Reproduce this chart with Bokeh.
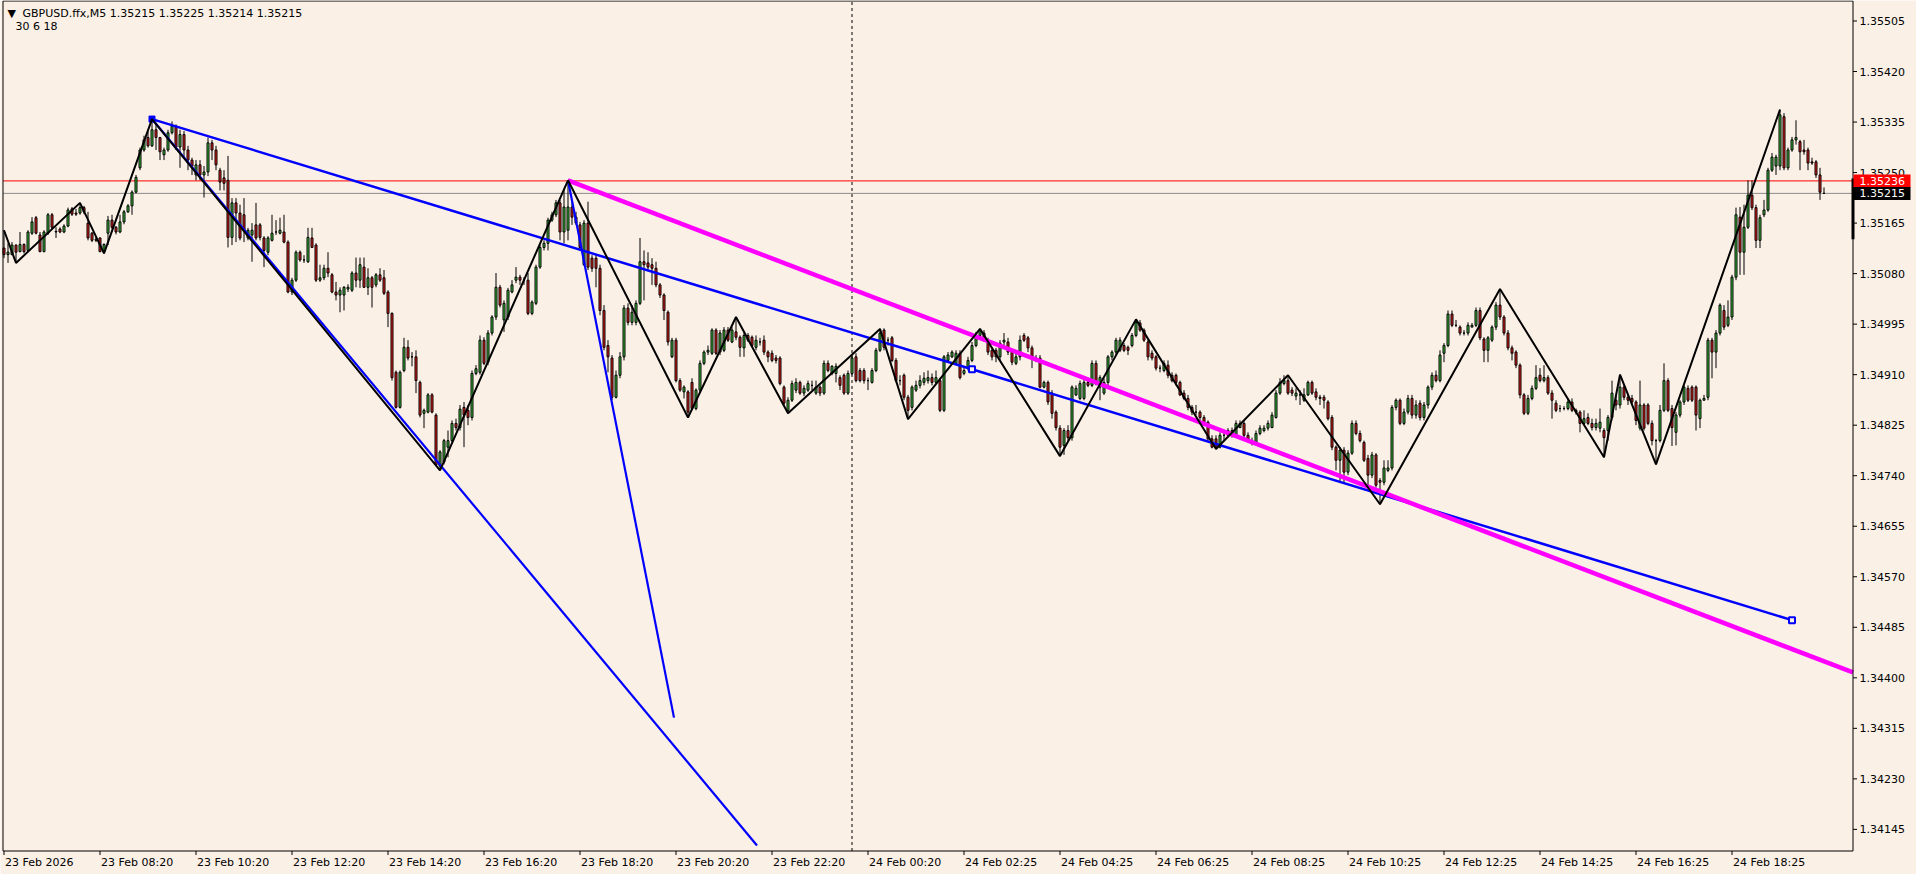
import numpy as np
from bokeh.plotting import figure
from bokeh.models import Range1d
from bokeh.core.properties import value
from bokeh.embed import file_html
from bokeh.resources import INLINE

# ---------------- data (prices in points above BASE, 1 point = 0.00001) ----------------
BASE = 1.34
SYMBOL = "GBPUSD.ffx,M5"
ZZ_PARAMS = "30 6 18"
ASK = 1.35236

OPEN_PTS = [
    1123, 1112, 1112, 1128, 1117, 1129, 1119, 1148, 1174, 1145,
    1117, 1148, 1179, 1151, 1155, 1150, 1160, 1189, 1182, 1182,
    1191, 1165, 1148, 1136, 1140, 1117, 1148, 1170, 1158, 1150,
    1167, 1184, 1194, 1217, 1258, 1288, 1309, 1295, 1322, 1309,
    1280, 1288, 1317, 1328, 1293, 1314, 1288, 1271, 1246, 1263,
    1246, 1251, 1300, 1288, 1254, 1241, 1237, 1141, 1199, 1182,
    1179, 1140, 1145, 1162, 1162, 1140, 1116, 1136, 1150, 1148,
    1150, 1133, 1049, 1069, 1116, 1103, 1100, 1140, 1128, 1069,
    1073, 1089, 1078, 1049, 1044, 1044, 1054, 1052, 1081, 1069,
    1091, 1057, 1073, 1061, 1078, 1073, 1049, 1013, 914, 855,
    917, 956, 940, 940, 897, 845, 847, 876, 842, 756,
    763, 788, 799, 828, 821, 855, 850, 838, 912, 914,
    968, 931, 980, 1007, 1057, 1002, 1007, 1049, 1069, 1074,
    1069, 1069, 1013, 1030, 1091, 1124, 1131, 1170, 1179, 1199,
    1150, 1153, 1192, 1175, 1162, 1095, 1165, 1106, 1106, 1089,
    1018, 959, 938, 872, 909, 940, 1022, 998, 998, 1030,
    1100, 1098, 1095, 1089, 1061, 1044, 1015, 940, 968, 900,
    881, 881, 897, 853, 884, 929, 948, 946, 985, 948,
    951, 985, 965, 982, 973, 955, 976, 973, 956, 965,
    968, 948, 946, 938, 938, 889, 850, 867, 884, 897,
    879, 884, 892, 879, 889, 879, 929, 912, 912, 905,
    909, 879, 912, 940, 917, 917, 900, 897, 917, 951,
    985, 968, 972, 934, 900, 909, 872, 855, 884, 892,
    897, 900, 905, 897, 900, 850, 934, 940, 929, 946,
    912, 921, 934, 959, 976, 980, 968, 951, 951, 940,
    965, 965, 948, 929, 940, 976, 972, 955, 938, 938,
    889, 897, 879, 847, 820, 791, 816, 804, 876, 870,
    870, 897, 892, 929, 889, 879, 897, 940, 948, 951,
    959, 956, 959, 976, 997, 985, 965, 946, 940, 921,
    917, 926, 909, 909, 897, 879, 870, 855, 847, 847,
    838, 830, 802, 802, 788, 808, 808, 816, 808, 821,
    828, 808, 799, 796, 811, 816, 820, 821, 838, 879,
    895, 900, 884, 874, 876, 867, 876, 897, 881, 872,
    872, 864, 838, 788, 766, 783, 746, 778, 828, 811,
    796, 769, 741, 775, 732, 729, 749, 753, 855, 867,
    828, 847, 870, 842, 862, 838, 859, 889, 909, 900,
    946, 959, 1012, 993, 990, 980, 980, 990, 993, 1018,
    970, 951, 968, 990, 1027, 1007, 980, 955, 948, 926,
    876, 845, 870, 887, 909, 900, 905, 879, 862, 853,
    853, 853, 864, 850, 847, 828, 838, 828, 821, 820,
    816, 816, 838, 867, 859, 889, 872, 870, 864, 820,
    859, 859, 828, 799, 799, 850, 900, 853, 813, 842,
    864, 887, 889, 889, 836, 867, 872, 968, 948, 980,
    1018, 993, 1007, 1074, 1175, 1116, 1158, 1212, 1191, 1136,
    1179, 1187, 1254, 1261, 1261, 1344, 1258, 1288, 1305, 1302,
    1288, 1288, 1268, 1268, 1246, 1215,
]
HIGH_PTS = [
    1153, 1131, 1133, 1129, 1150, 1131, 1153, 1175, 1177, 1150,
    1153, 1182, 1182, 1158, 1158, 1163, 1191, 1192, 1189, 1199,
    1194, 1184, 1150, 1143, 1141, 1131, 1177, 1179, 1160, 1179,
    1187, 1197, 1220, 1246, 1292, 1312, 1319, 1340, 1330, 1310,
    1292, 1322, 1336, 1331, 1322, 1320, 1295, 1275, 1271, 1271,
    1261, 1309, 1305, 1295, 1258, 1254, 1278, 1207, 1207, 1196,
    1207, 1157, 1165, 1199, 1165, 1143, 1143, 1179, 1170, 1174,
    1179, 1136, 1073, 1119, 1119, 1111, 1157, 1157, 1131, 1095,
    1095, 1116, 1081, 1066, 1057, 1059, 1062, 1084, 1107, 1107,
    1107, 1089, 1076, 1081, 1089, 1086, 1052, 1015, 917, 917,
    972, 968, 948, 951, 900, 853, 879, 879, 845, 783,
    802, 816, 833, 836, 859, 864, 859, 917, 926, 976,
    973, 985, 1010, 1081, 1061, 1035, 1056, 1069, 1091, 1078,
    1074, 1081, 1035, 1095, 1128, 1136, 1174, 1184, 1204, 1204,
    1220, 1237, 1204, 1184, 1167, 1170, 1201, 1111, 1111, 1095,
    1027, 968, 943, 917, 948, 1027, 1030, 1027, 1035, 1140,
    1119, 1116, 1106, 1100, 1064, 1047, 1018, 972, 972, 904,
    892, 884, 904, 887, 934, 951, 959, 988, 988, 985,
    990, 990, 990, 1007, 976, 980, 980, 976, 976, 972,
    976, 951, 951, 943, 941, 892, 872, 900, 904, 900,
    892, 900, 900, 900, 892, 934, 934, 926, 929, 909,
    912, 917, 943, 946, 921, 921, 905, 921, 955, 987,
    988, 973, 975, 938, 909, 912, 876, 892, 900, 909,
    914, 917, 912, 917, 904, 943, 948, 951, 951, 951,
    924, 940, 965, 982, 987, 985, 972, 955, 955, 968,
    980, 972, 951, 948, 976, 980, 975, 959, 943, 943,
    900, 900, 884, 850, 825, 820, 825, 892, 892, 900,
    904, 904, 934, 934, 909, 904, 943, 951, 972, 973,
    963, 959, 980, 1003, 1002, 988, 968, 951, 943, 926,
    934, 934, 914, 912, 900, 884, 876, 859, 859, 850,
    842, 833, 808, 808, 813, 813, 820, 821, 833, 833,
    833, 813, 804, 816, 825, 825, 833, 847, 884, 904,
    909, 909, 889, 887, 884, 887, 900, 900, 887, 876,
    876, 867, 842, 791, 788, 788, 783, 833, 833, 816,
    799, 775, 780, 778, 736, 766, 766, 859, 870, 870,
    853, 876, 876, 867, 867, 864, 892, 914, 917, 951,
    963, 1018, 1018, 1002, 993, 985, 998, 997, 1023, 1023,
    973, 975, 993, 1032, 1054, 1010, 985, 959, 951, 929,
    879, 876, 892, 926, 921, 926, 909, 884, 867, 859,
    857, 870, 870, 853, 850, 850, 845, 836, 836, 853,
    820, 842, 900, 876, 910, 892, 876, 876, 867, 900,
    862, 862, 833, 802, 859, 929, 904, 859, 847, 867,
    892, 892, 892, 892, 870, 876, 972, 972, 985, 1030,
    1027, 1035, 1078, 1191, 1192, 1196, 1237, 1237, 1196, 1179,
    1204, 1258, 1283, 1280, 1356, 1350, 1292, 1310, 1338, 1305,
    1305, 1292, 1275, 1271, 1258, 1225,
]
LOW_PTS = [
    1106, 1098, 1111, 1098, 1116, 1114, 1117, 1145, 1146, 1116,
    1116, 1145, 1155, 1140, 1148, 1148, 1158, 1177, 1177, 1179,
    1180, 1136, 1133, 1133, 1116, 1114, 1128, 1155, 1146, 1148,
    1163, 1182, 1179, 1215, 1254, 1285, 1292, 1293, 1288, 1271,
    1271, 1285, 1314, 1288, 1258, 1275, 1254, 1246, 1237, 1237,
    1208, 1244, 1271, 1254, 1220, 1220, 1124, 1128, 1133, 1136,
    1133, 1136, 1100, 1136, 1136, 1091, 1111, 1134, 1145, 1146,
    1131, 1047, 1044, 1066, 1100, 1098, 1098, 1123, 1066, 1066,
    1069, 1074, 1047, 1035, 1015, 1018, 1049, 1049, 1057, 1056,
    1056, 1044, 1023, 1057, 1066, 1044, 990, 900, 853, 853,
    914, 934, 924, 879, 838, 820, 845, 845, 756, 749,
    759, 771, 796, 816, 816, 788, 825, 833, 909, 910,
    926, 926, 976, 1002, 1023, 982, 1002, 1047, 1064, 1061,
    1061, 1010, 1010, 1027, 1088, 1119, 1119, 1167, 1175, 1136,
    1131, 1136, 1162, 1162, 1119, 1093, 1086, 1083, 1057, 1010,
    951, 914, 867, 870, 904, 934, 993, 993, 993, 1027,
    1035, 1086, 1061, 1057, 1039, 1002, 959, 938, 897, 881,
    870, 838, 850, 850, 881, 926, 943, 943, 943, 943,
    948, 965, 963, 968, 940, 940, 965, 956, 951, 959,
    943, 931, 931, 929, 892, 859, 845, 864, 879, 876,
    874, 881, 884, 876, 874, 876, 914, 909, 897, 884,
    876, 876, 909, 897, 897, 895, 884, 895, 914, 948,
    951, 959, 931, 897, 892, 867, 835, 850, 881, 887,
    892, 895, 892, 895, 847, 847, 931, 938, 926, 902,
    909, 917, 931, 956, 973, 965, 943, 934, 931, 934,
    959, 943, 926, 926, 934, 965, 948, 921, 931, 887,
    887, 859, 836, 816, 773, 775, 799, 799, 874, 867,
    867, 889, 889, 892, 867, 876, 892, 934, 943, 948,
    948, 943, 956, 973, 982, 965, 934, 934, 917, 914,
    914, 904, 897, 892, 874, 867, 850, 842, 842, 833,
    825, 799, 786, 785, 786, 799, 804, 804, 804, 820,
    804, 796, 791, 791, 808, 813, 816, 820, 836, 876,
    892, 876, 874, 867, 859, 864, 874, 876, 867, 859,
    853, 833, 783, 749, 729, 729, 741, 775, 808, 796,
    763, 724, 736, 720, 692, 724, 746, 749, 850, 825,
    825, 843, 836, 836, 833, 833, 853, 884, 897, 897,
    931, 956, 990, 990, 976, 976, 976, 990, 990, 968,
    931, 931, 965, 985, 1002, 976, 951, 934, 921, 870,
    842, 842, 867, 884, 897, 897, 876, 836, 847, 847,
    850, 850, 847, 843, 813, 825, 825, 816, 816, 813,
    771, 799, 833, 850, 853, 867, 859, 859, 825, 816,
    816, 825, 791, 759, 796, 847, 847, 790, 791, 838,
    859, 864, 864, 816, 820, 867, 867, 904, 921, 976,
    985, 990, 1002, 1069, 1078, 1078, 1155, 1187, 1123, 1123,
    1175, 1184, 1251, 1246, 1254, 1254, 1254, 1285, 1297, 1254,
    1280, 1254, 1263, 1241, 1204, 1214,
]
CLOSE_PTS = [
    1112, 1116, 1128, 1116, 1129, 1117, 1150, 1167, 1148, 1117,
    1150, 1179, 1158, 1150, 1150, 1160, 1187, 1180, 1180, 1191,
    1184, 1140, 1136, 1138, 1117, 1129, 1170, 1158, 1150, 1167,
    1184, 1194, 1217, 1242, 1288, 1305, 1295, 1322, 1309, 1285,
    1288, 1317, 1328, 1293, 1314, 1288, 1271, 1261, 1263, 1246,
    1251, 1300, 1288, 1263, 1234, 1232, 1141, 1199, 1182, 1140,
    1153, 1153, 1153, 1140, 1141, 1119, 1140, 1148, 1150, 1153,
    1133, 1049, 1069, 1116, 1103, 1103, 1141, 1124, 1069, 1073,
    1089, 1081, 1049, 1044, 1052, 1057, 1057, 1081, 1069, 1095,
    1057, 1073, 1057, 1078, 1069, 1047, 1013, 905, 855, 914,
    956, 938, 940, 900, 842, 850, 876, 847, 758, 780,
    799, 799, 828, 821, 852, 842, 838, 912, 920, 968,
    929, 980, 1007, 1057, 1027, 1030, 1052, 1061, 1074, 1069,
    1069, 1013, 1032, 1091, 1124, 1131, 1170, 1179, 1199, 1150,
    1192, 1192, 1175, 1165, 1124, 1165, 1091, 1089, 1089, 1018,
    956, 940, 872, 909, 940, 1022, 998, 1015, 1030, 1100,
    1095, 1091, 1089, 1061, 1044, 1018, 965, 968, 900, 884,
    889, 847, 853, 884, 929, 948, 951, 985, 946, 980,
    985, 968, 985, 973, 956, 976, 968, 959, 968, 965,
    948, 940, 934, 934, 895, 862, 867, 895, 897, 879,
    887, 895, 892, 889, 879, 929, 917, 924, 924, 892,
    879, 912, 938, 900, 900, 900, 900, 917, 951, 980,
    956, 968, 934, 900, 900, 872, 850, 889, 892, 900,
    904, 905, 897, 905, 850, 940, 943, 948, 946, 905,
    917, 934, 959, 976, 985, 968, 948, 940, 940, 963,
    968, 948, 931, 940, 968, 968, 955, 938, 938, 889,
    897, 864, 845, 821, 788, 816, 804, 889, 887, 895,
    897, 892, 929, 895, 905, 897, 940, 948, 968, 968,
    951, 951, 976, 998, 985, 968, 940, 938, 921, 921,
    929, 909, 900, 897, 876, 870, 855, 847, 847, 838,
    828, 802, 788, 788, 808, 808, 816, 808, 828, 828,
    808, 799, 794, 811, 820, 820, 828, 842, 879, 897,
    900, 879, 879, 879, 876, 876, 897, 879, 872, 870,
    867, 836, 788, 766, 783, 746, 778, 828, 811, 799,
    766, 741, 775, 724, 729, 753, 753, 855, 867, 828,
    847, 870, 842, 859, 838, 859, 889, 909, 900, 943,
    959, 1012, 993, 993, 980, 980, 993, 993, 1018, 972,
    951, 972, 990, 1027, 1007, 980, 955, 946, 926, 876,
    845, 870, 887, 905, 900, 905, 879, 867, 850, 853,
    853, 864, 850, 847, 828, 836, 828, 821, 828, 830,
    804, 838, 879, 859, 889, 872, 867, 864, 833, 859,
    820, 828, 799, 799, 850, 900, 850, 821, 842, 864,
    889, 867, 867, 842, 867, 870, 968, 948, 980, 1027,
    990, 1007, 1074, 1179, 1116, 1158, 1212, 1191, 1136, 1174,
    1187, 1254, 1276, 1276, 1347, 1258, 1288, 1305, 1309, 1285,
    1285, 1266, 1266, 1246, 1217, 1215,
]

# time axis labels at bar indices
X_TICK_BARS = [0, 24, 48, 72, 96, 120, 144, 168, 192, 216, 240, 264, 288, 312, 336, 360, 384, 408, 432]
X_TICK_LABELS = ["23 Feb 2026", "23 Feb 08:20", "23 Feb 10:20", "23 Feb 12:20", "23 Feb 14:20",
                 "23 Feb 16:20", "23 Feb 18:20", "23 Feb 20:20", "23 Feb 22:20", "24 Feb 00:20",
                 "24 Feb 02:25", "24 Feb 04:25", "24 Feb 06:25", "24 Feb 08:25", "24 Feb 10:25",
                 "24 Feb 12:25", "24 Feb 14:25", "24 Feb 16:25", "24 Feb 18:25"]
Y_TICKS = [1.34145, 1.34230, 1.34315, 1.34400, 1.34485, 1.34570, 1.34655, 1.34740, 1.34825,
           1.34910, 1.34995, 1.35080, 1.35165, 1.35250, 1.35335, 1.35420, 1.35505]
DAY_SEPARATOR_BAR = 212

# zigzag pivots: bar index and whether it's a high (H) or low (L)
ZZ_BARS = [0, 3, 19, 25, 37, 109, 141, 171, 183, 196, 219, 226, 244, 264, 283, 303, 321, 344, 374, 400, 404, 413, 444]
ZZ_KIND = "HLHLHLHLHLHLHLHLHLHLHLH"

# trend lines (bar index, points)
BLUE_A_BARS, BLUE_A_PTS = [37, 242, 447], [1340, 919, 497]
BLUE_B_BARS, BLUE_B_PTS = [37, 188.25], [1340, 118]
BLUE_C_BARS, BLUE_C_PTS = [141, 167.5], [1237, 333]
MAGENTA_BARS, MAGENTA_PTS = [141, 462.25], [1237, 409]
RANGE_BAR_PTS = [1138, 1240]

# ---------------- layout: MT4 window geometry (page pixels) ----------------
W, H = 1916, 874
PX_BAR = 4.0          # pixels per bar
X_ORIGIN = 3.5        # page x of bar 0
PX_PRICE = 59440.0    # pixels per price unit
Y_REF_PRICE, Y_REF_PX = 1.35505, 20.5
CHART_RIGHT_PX, CHART_BOTTOM_PX, CHART_LEFT_PX, CHART_TOP_PX = 1852.5, 850.5, 2.5, 0.5


def bx(page_x):
    return (page_x - X_ORIGIN) / PX_BAR


def py(page_y):
    return Y_REF_PRICE - (page_y - Y_REF_PX) / PX_PRICE


def dy(pixels):
    return pixels / PX_PRICE


def px(v):
    return BASE + np.asarray(v, dtype=float) / 100000.0


o, h, l, c = px(OPEN_PTS), px(HIGH_PTS), px(LOW_PTS), px(CLOSE_PTS)
idx = np.arange(len(c))
up = c >= o
dn = ~up

BG = "#FAF0E6"
GREEN = "#3cc83c"
RED = "#f01e1e"
FONT = value("DejaVu Sans")
FS = value("11px")

p = figure(width=W, height=H, x_range=Range1d(bx(0), bx(W)), y_range=Range1d(py(H), py(0)),
           output_backend="svg", toolbar_location=None, title=None,
           x_axis_location=None, y_axis_location=None,
           min_border_left=0, min_border_top=0, min_border_right=0, min_border_bottom=0,
           background_fill_color=BG, border_fill_color=BG, outline_line_color=None)
p.grid.visible = False

xl, xr = bx(CHART_LEFT_PX), bx(CHART_RIGHT_PX)
yb, yt = py(CHART_BOTTOM_PX), py(CHART_TOP_PX)

# price lines and day separator
p.segment(x0=[xl], x1=[xr], y0=[ASK], y1=[ASK], line_color="#ff0000", line_width=1)
p.segment(x0=[xl], x1=[xr], y0=[c[-1]], y1=[c[-1]], line_color="#8a8a8a", line_width=1)
p.segment(x0=[DAY_SEPARATOR_BAR], x1=[DAY_SEPARATOR_BAR], y0=[yb], y1=[yt], line_color="black",
          line_width=1, line_dash="3 3")

# candles
p.segment(x0=idx, x1=idx, y0=l, y1=h, line_color="black", line_width=1)
p.vbar(x=idx[up], bottom=o[up], top=c[up], width=0.5, fill_color=GREEN, line_color="black", line_width=1)
p.vbar(x=idx[dn], bottom=c[dn], top=o[dn], width=0.5, fill_color=RED, line_color="black", line_width=1)

# trend lines
p.line(BLUE_A_BARS, px(BLUE_A_PTS), line_color="#0000ff", line_width=2.5)
p.line(BLUE_B_BARS, px(BLUE_B_PTS), line_color="#0000ff", line_width=2.2)
p.line(BLUE_C_BARS, px(BLUE_C_PTS), line_color="#0000ff", line_width=2.2)
p.line(MAGENTA_BARS, px(MAGENTA_PTS), line_color="#ff00ff", line_width=4.5)
p.scatter(BLUE_A_BARS[:1], px(BLUE_A_PTS[:1]), marker="square", size=6, fill_color="#0000ff", line_color="#0000ff")
p.scatter(BLUE_A_BARS[1:], px(BLUE_A_PTS[1:]), marker="square", size=6, fill_color=BG,
          line_color="#0000ff", line_width=2)

# zigzag
zz_y = [h[b] if k == "H" else l[b] for b, k in zip(ZZ_BARS, ZZ_KIND)]
p.line(ZZ_BARS, zz_y, line_color="black", line_width=2)

# chart frame
p.line([xl, xr, xr, xl, xl], [yt, yt, yb, yb, yt], line_color="black", line_width=1)

# price scale (right)
p.segment(x0=[xr] * len(Y_TICKS), x1=[bx(1856.5)] * len(Y_TICKS), y0=Y_TICKS, y1=Y_TICKS,
          line_color="black", line_width=1)
p.text(x=[bx(1859)] * len(Y_TICKS), y=Y_TICKS, text=[f"{t:.5f}" for t in Y_TICKS],
       text_font=FONT, text_font_size=FS, text_color="black", text_align="left", text_baseline="middle")

# time scale (bottom)
p.segment(x0=X_TICK_BARS, x1=X_TICK_BARS, y0=[yb] * len(X_TICK_BARS), y1=[py(854.5)] * len(X_TICK_BARS),
          line_color="black", line_width=1)
p.text(x=[b + bx(5) - bx(4) for b in X_TICK_BARS], y=[py(855)] * len(X_TICK_BARS), text=X_TICK_LABELS,
       text_font=FONT, text_font_size=FS, text_color="black", text_align="left", text_baseline="top")

# current range bar on the price scale
p.quad(left=[bx(1851)], right=[bx(1854)], bottom=[px(RANGE_BAR_PTS[0])], top=[px(RANGE_BAR_PTS[1])],
       fill_color="black", line_color=None)

# ask / bid boxes
box_vals = [ASK, c[-1]]
p.quad(left=[bx(1853)] * 2, right=[bx(1910)] * 2,
       bottom=[v - dy(6.5) for v in box_vals], top=[v + dy(6.5) for v in box_vals],
       fill_color=["#ff0000", "black"], line_color=None)
p.text(x=[bx(1859)] * 2, y=box_vals, text=[f"{v:.5f}" for v in box_vals],
       text_font=FONT, text_font_size=FS, text_color="white", text_align="left", text_baseline="middle")

# header
hdr = f"{SYMBOL}  {o[-1]:.5f} {h[-1]:.5f} {l[-1]:.5f} {c[-1]:.5f}"
p.text(x=[bx(7), bx(22), bx(15)], y=[py(13), py(13), py(26)], text=["\u25bc", hdr, ZZ_PARAMS],
       text_font=FONT, text_font_size=FS, text_color="black", text_align="left", text_baseline="middle")

open("out.html", "w").write(file_html(p, INLINE))
